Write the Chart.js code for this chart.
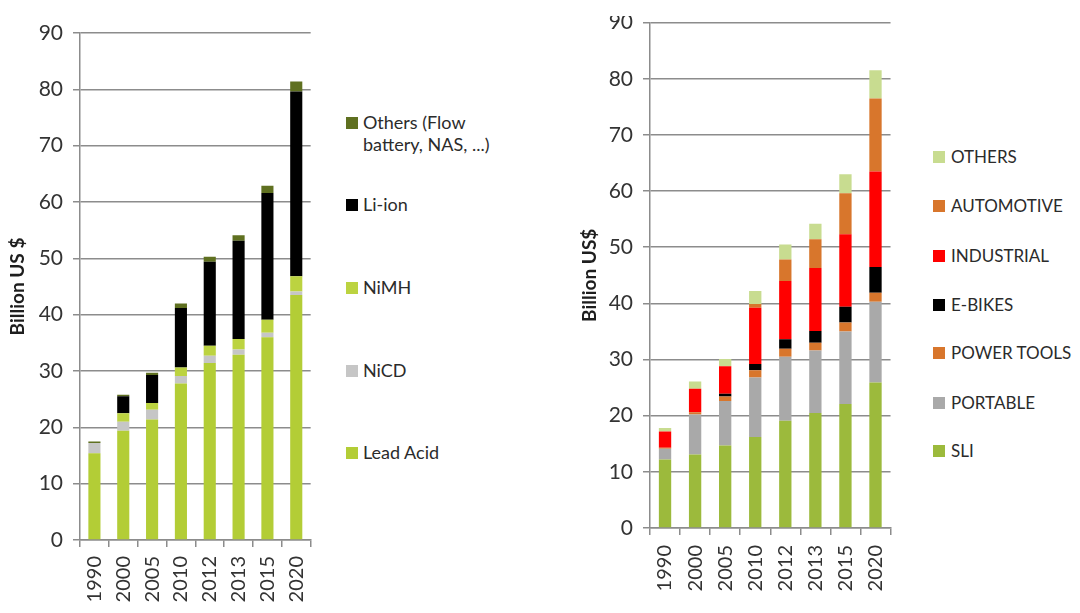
<!DOCTYPE html>
<html>
<head>
<meta charset="utf-8">
<script src="https://cdn.jsdelivr.net/npm/chart.js@4.4.1/dist/chart.umd.min.js"></script>
<style>
  body { margin: 0; background: #fff; width: 1080px; height: 613px; overflow: hidden; position: relative; font-family: Lato, "Open Sans", sans-serif; }
  .box { position: absolute; }
  .legend { position: absolute; color: #2b2b2b; }
  .legend .item { position: absolute; white-space: nowrap; }
  .legend .sw { position: absolute; width: 12px; height: 12px; }
</style>
</head>
<body>
<div class="box" style="left:0;top:0;width:330px;height:613px;">
  <canvas id="techChart" width="330" height="613"></canvas>
</div>
<div class="box" style="left:560px;top:16px;width:350px;height:597px;overflow:hidden;">
  <canvas id="appChart" width="350" height="613" style="position:absolute;left:0;top:-16px;"></canvas>
</div>
<div class="legend" id="techLegend" style="left:346px;top:0;font-size:18px;"></div>
<div class="legend" id="appLegend" style="left:933px;top:0;font-size:17px;"></div>

<script>
// Categorias (anos)
const years = ['1990', '2000', '2005', '2010', '2012', '2013', '2015', '2020'];
const yTicks = [0, 10, 20, 30, 40, 50, 60, 70, 80, 90];

// Gráfico da esquerda - por tecnologia (Billion US $)
const leadAcid   = [15.4, 19.4, 21.4, 27.8, 31.4, 32.9, 36.0, 43.5];
const niCd       = [1.8, 1.6, 1.7, 1.3, 1.3, 0.9, 0.8, 0.6];
const niMH       = [0, 1.5, 1.2, 1.5, 1.8, 1.9, 2.3, 2.7];
const liIon      = [0, 3.0, 5.0, 10.6, 14.9, 17.4, 22.5, 32.8];
const othersTech = [0.3, 0.3, 0.4, 0.8, 0.9, 1.0, 1.3, 1.8];

// Gráfico da direita - por aplicação (Billion US$)
const sli        = [12.2, 13.1, 14.7, 16.2, 19.1, 20.5, 22.1, 25.9];
const portable   = [1.9, 7.1, 7.9, 10.6, 11.4, 11.1, 12.9, 14.4];
const powerTools = [0.2, 0.4, 0.8, 1.3, 1.4, 1.4, 1.6, 1.6];
const eBikes     = [0, 0, 0.5, 1.1, 1.7, 2.1, 2.8, 4.6];
const industrial = [2.9, 4.2, 4.9, 10.0, 10.4, 11.2, 12.9, 17.0];
const automotive = [0, 0, 0, 0.7, 3.8, 5.1, 7.3, 13.0];
const othersApp  = [0.6, 1.3, 1.3, 2.3, 2.7, 2.8, 3.4, 5.0];

const FONT = 'Lato, "Open Sans", sans-serif';
const GRID = '#8c8c8c';
const TEXT = '#333333';

// Monta as opções comuns dos dois gráficos
function buildOptions(cfg) {
  return {
    responsive: false,
    animation: false,
    layout: { padding: { top: cfg.top, right: cfg.right, left: 0, bottom: 0 } },
    plugins: { legend: { display: false }, tooltip: { enabled: false } },
    datasets: { bar: { categoryPercentage: 1, barPercentage: cfg.barPct } },
    scales: {
      x: {
        stacked: true,
        grid: { display: true, drawOnChartArea: false, drawTicks: true, tickLength: 7, color: GRID, lineWidth: 1.5, offset: true },
        border: { display: true, color: GRID, width: 1.5 },
        ticks: { minRotation: 90, maxRotation: 90, color: TEXT, padding: cfg.xPad, font: { family: FONT, size: 20 } },
        afterFit: s => { s.height = cfg.xHeight; }
      },
      y: {
        stacked: true,
        min: 0,
        max: 90,
        afterBuildTicks: s => { s.ticks = yTicks.map(v => ({ value: v })); },
        grid: { color: GRID, lineWidth: 1.5, tickLength: 7 },
        border: { display: true, color: GRID, width: 1.5 },
        ticks: { color: TEXT, padding: 10, font: { family: FONT, size: 21 } },
        title: { display: true, text: cfg.title, color: '#1e1e1e', padding: { top: cfg.titlePad, bottom: 0 }, font: { family: FONT, size: 19, weight: 'bold' } },
        afterFit: s => { s.width = cfg.yWidth; }
      }
    }
  };
}

// Cria dataset de barra empilhada
const ds = (label, data, color) => ({ label, data, backgroundColor: color, borderWidth: 0 });

const techSeries = [
  ds('Lead Acid', leadAcid, '#b3cd36'),
  ds('NiCD', niCd, '#c6c6c6'),
  ds('NiMH', niMH, '#bcd340'),
  ds('Li-ion', liIon, '#000000'),
  ds('Others (Flow battery, NAS, ...)', othersTech, '#5f7020')
];

const appSeries = [
  ds('SLI', sli, '#9cba3c'),
  ds('PORTABLE', portable, '#a9a9a9'),
  ds('POWER TOOLS', powerTools, '#d8762c'),
  ds('E-BIKES', eBikes, '#000000'),
  ds('INDUSTRIAL', industrial, '#ff0000'),
  ds('AUTOMOTIVE', automotive, '#d8762c'),
  ds('OTHERS', othersApp, '#c8dc90')
];

new Chart(document.getElementById('techChart'), {
  type: 'bar',
  data: { labels: years, datasets: techSeries },
  options: buildOptions({ top: 33, right: 12, barPct: 0.42, xHeight: 73, xPad: 9, yWidth: 80, title: 'Billion US $', titlePad: 6 })
});

new Chart(document.getElementById('appChart'), {
  type: 'bar',
  data: { labels: years, datasets: appSeries },
  options: buildOptions({ top: 19, right: 8, barPct: 0.41, xHeight: 85, xPad: 10, yWidth: 90, title: 'Billion US$', titlePad: 18 })
});

// Legendas em HTML (posições como no original)
function drawLegend(id, entries, swTop) {
  const el = document.getElementById(id);
  entries.forEach(e => {
    const sw = document.createElement('div');
    sw.className = 'sw';
    sw.style.left = '0px';
    sw.style.top = (e.y - 6) + 'px';
    sw.style.background = e.color;
    el.appendChild(sw);
    e.lines.forEach((line, i) => {
      const t = document.createElement('div');
      t.className = 'item';
      t.style.left = e.textX + 'px';
      t.style.top = (e.y - swTop + i * 22) + 'px';
      t.textContent = line;
      el.appendChild(t);
    });
  });
}

drawLegend('techLegend', [
  { lines: ['Others (Flow', 'battery, NAS, ...)'], color: '#5f7020', y: 123, textX: 17 },
  { lines: ['Li-ion'], color: '#000000', y: 205, textX: 17 },
  { lines: ['NiMH'], color: '#bcd340', y: 288, textX: 17 },
  { lines: ['NiCD'], color: '#c6c6c6', y: 371, textX: 17 },
  { lines: ['Lead Acid'], color: '#b3cd36', y: 453, textX: 17 }
], 12);

drawLegend('appLegend', [
  { lines: ['OTHERS'], color: '#c8dc90', y: 157, textX: 18 },
  { lines: ['AUTOMOTIVE'], color: '#d8762c', y: 206, textX: 18 },
  { lines: ['INDUSTRIAL'], color: '#ff0000', y: 256, textX: 18 },
  { lines: ['E-BIKES'], color: '#000000', y: 305, textX: 18 },
  { lines: ['POWER TOOLS'], color: '#d8762c', y: 353, textX: 18 },
  { lines: ['PORTABLE'], color: '#a9a9a9', y: 403, textX: 18 },
  { lines: ['SLI'], color: '#9cba3c', y: 451, textX: 18 }
], 11);
</script>
</body>
</html>
